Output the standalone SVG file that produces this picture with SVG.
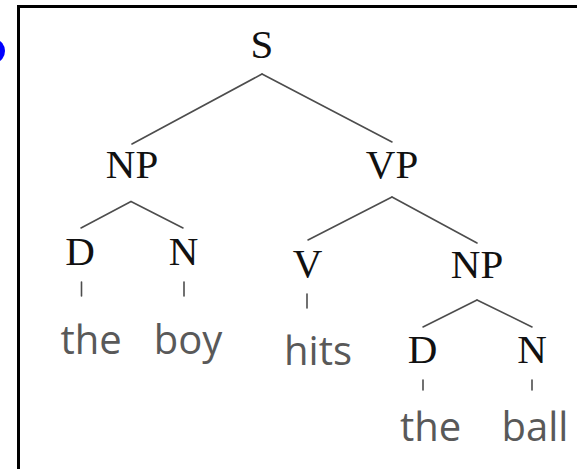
<svg xmlns="http://www.w3.org/2000/svg" width="577" height="469" viewBox="0 0 577 469">
<style>
.cat{font-family:"Liberation Serif","Times New Roman",serif;font-size:41px;fill:#111111;text-anchor:middle}
.word{font-family:"Open Sans","Noto Sans","Liberation Sans",sans-serif;font-size:40px;fill:#595959;text-anchor:middle}
.edge{stroke:#4d4d4d;stroke-width:1.6;fill:none;stroke-linecap:round}
</style>
<rect x="0" y="0" width="577" height="469" fill="#ffffff"/>
<ellipse cx="-4" cy="51" rx="9" ry="11" fill="#0000ff"/>
<path d="M18.5 480 V6.5 H590" fill="none" stroke="#000000" stroke-width="3"/>
<g id="connectors">
<line class="edge" x1="262" y1="74" x2="132" y2="144"/>
<line class="edge" x1="262" y1="74" x2="392" y2="142"/>
<line class="edge" x1="131" y1="201.5" x2="81" y2="228"/>
<line class="edge" x1="131" y1="201.5" x2="183" y2="228"/>
<line class="edge" x1="392" y1="197" x2="308" y2="240"/>
<line class="edge" x1="392" y1="197" x2="477" y2="243"/>
<line class="edge" x1="477" y1="300" x2="423" y2="327"/>
<line class="edge" x1="477" y1="300" x2="532" y2="327"/>
<line class="edge" x1="81.5" y1="282" x2="81.5" y2="296"/>
<line class="edge" x1="184" y1="282" x2="184" y2="296"/>
<line class="edge" x1="307" y1="294" x2="307" y2="308"/>
<line class="edge" x1="423" y1="380" x2="423" y2="390"/>
<line class="edge" x1="532" y1="380" x2="532" y2="390"/>
</g>
<g id="node-S"><text class="cat" x="262" y="58">S</text></g>
<g id="node-NP1"><text class="cat" x="132" y="178">NP</text></g>
<g id="node-VP"><text class="cat" x="392" y="178">VP</text></g>
<g id="node-D1"><text class="cat" x="80" y="265">D</text></g>
<g id="node-N1"><text class="cat" x="183.5" y="265">N</text></g>
<g id="node-V"><text class="cat" x="307.5" y="277">V</text></g>
<g id="node-NP2"><text class="cat" x="477" y="278">NP</text></g>
<g id="node-D2"><text class="cat" x="422.5" y="363">D</text></g>
<g id="node-N2"><text class="cat" x="532" y="363">N</text></g>
<g id="word-the1"><text class="word" x="91" y="354">the</text></g>
<g id="word-boy"><text class="word" x="188" y="354">boy</text></g>
<g id="word-hits"><text class="word" x="318" y="365">hits</text></g>
<g id="word-the2"><text class="word" x="430.5" y="441">the</text></g>
<g id="word-ball"><text class="word" x="535" y="441">ball</text></g>
</svg>
